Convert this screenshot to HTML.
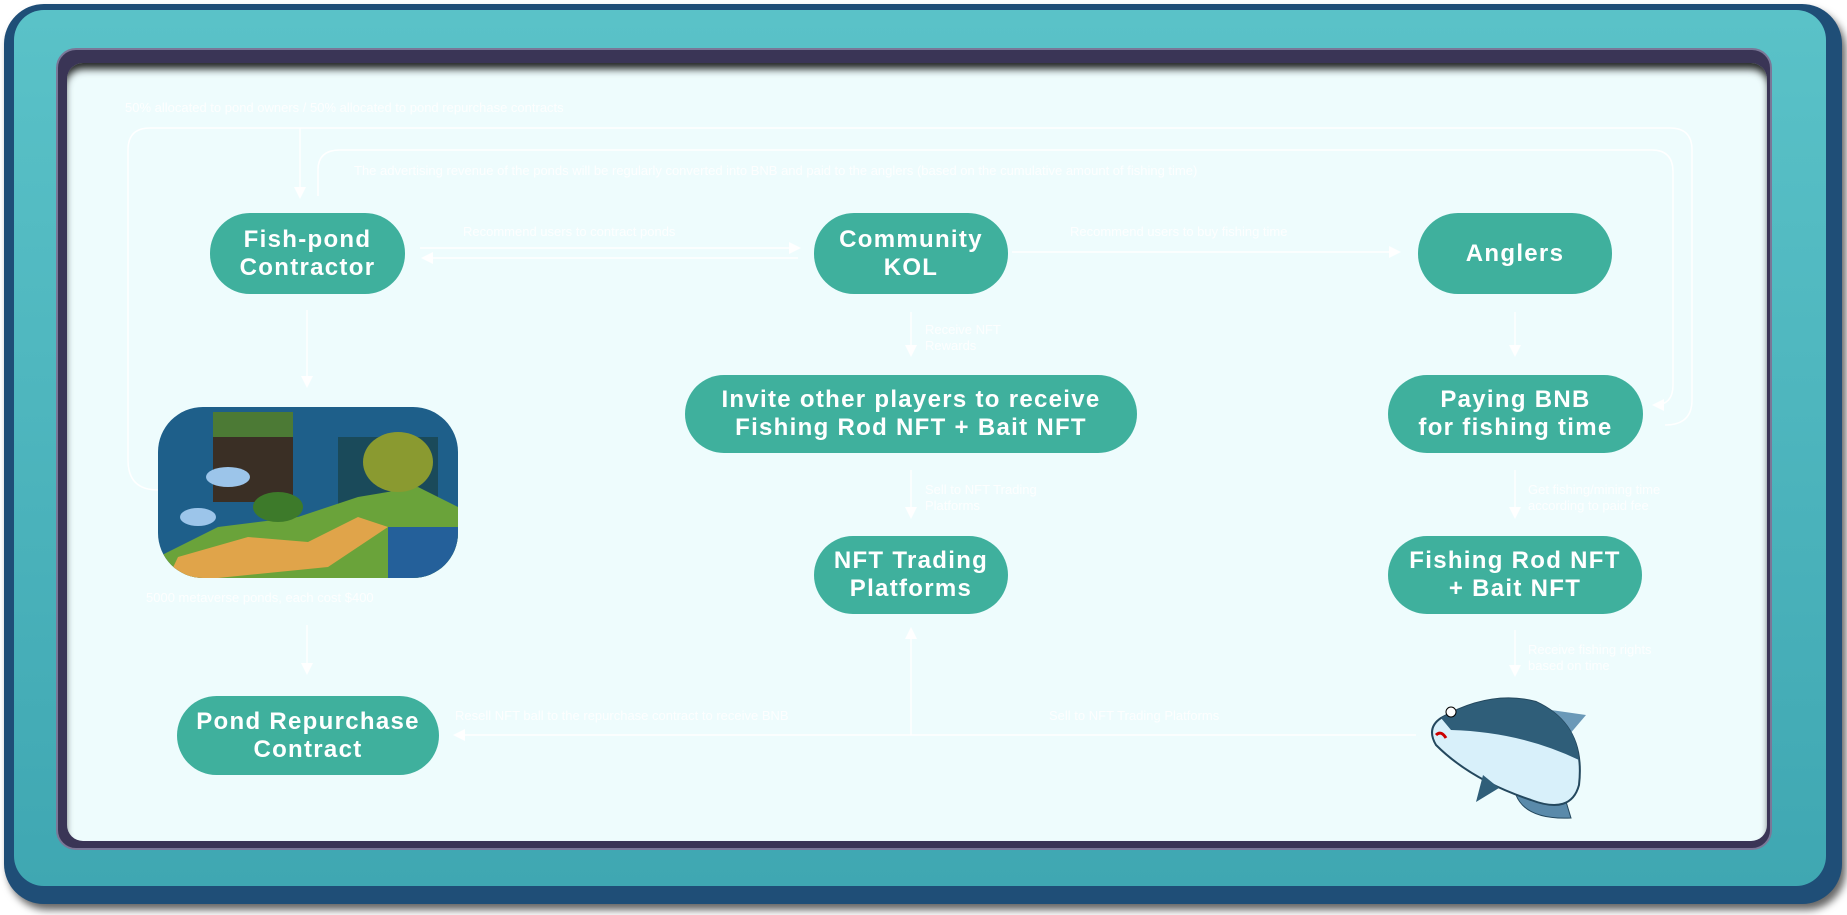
<!DOCTYPE html>
<html><head><meta charset="utf-8"><style>
*{margin:0;padding:0;box-sizing:border-box}
body{width:1847px;height:915px;background:#fff;position:relative;overflow:hidden;font-family:"Liberation Sans",Arial,sans-serif}
.outer{position:absolute;left:4px;top:4px;width:1838px;height:900px;border-radius:40px;background:#1f4e77;box-shadow:4px 6px 8px rgba(0,0,0,.6)}
.teal{position:absolute;left:14px;top:10px;width:1812px;height:876px;border-radius:30px;background:linear-gradient(#5ac2c8,#3fa7b2);}
.band{position:absolute;left:56px;top:48px;width:1716px;height:802px;border-radius:20px;background:#3a3556;border:2px solid #7a7898}
.panel{position:absolute;left:67px;top:63px;width:1700px;height:778px;border-radius:16px;background:#eefcfd;box-shadow:inset 0 8px 8px -2px rgba(0,0,0,.85)}
.node{position:absolute;background:#3fb09d;color:#fff;font-weight:bold;font-size:24px;letter-spacing:1.3px;line-height:28px;display:flex;align-items:center;justify-content:center;text-align:center;border-radius:40px}
.lbl{position:absolute;color:#fff;font-size:13px;line-height:16px;white-space:nowrap;opacity:.9}
svg{position:absolute;left:0;top:0}
</style></head><body>
<div class="outer"></div><div class="teal"></div><div class="band"></div><div class="panel"></div>
<svg width="1847" height="915">
<defs><marker id="a" markerWidth="8" markerHeight="8" refX="6" refY="4" orient="auto"><path d="M0,0 L8,4 L0,8z" fill="#fff"/></marker></defs>
<g stroke="#fff" stroke-width="1.5" fill="none">
<path d="M158,490 Q128,490 128,460 L128,150 Q128,128 150,128 L1670,128 Q1692,128 1692,150 L1692,400 Q1692,425 1665,425"/>
<path d="M300,128 L300,196" marker-end="url(#a)"/>
<path d="M318,196 L318,170 Q318,150 340,150 L1652,150 Q1673,150 1673,172 L1673,385 Q1673,405 1655,405" marker-end="url(#a)"/>
<path d="M420,248 L798,248" marker-end="url(#a)"/>
<path d="M798,258 L424,258" marker-end="url(#a)"/>
<path d="M1012,252 L1398,252" marker-end="url(#a)"/>
<path d="M307,310 L307,385" marker-end="url(#a)"/>
<path d="M911,312 L911,354" marker-end="url(#a)"/>
<path d="M1515,312 L1515,354" marker-end="url(#a)"/>
<path d="M911,470 L911,516" marker-end="url(#a)"/>
<path d="M1515,470 L1515,516" marker-end="url(#a)"/>
<path d="M307,625 L307,672" marker-end="url(#a)"/>
<path d="M1515,630 L1515,674" marker-end="url(#a)"/>
<path d="M1416,735 L456,735" marker-end="url(#a)"/>
<path d="M911,735 L911,630" marker-end="url(#a)"/>
</g></svg>
<div class="lbl" style="left:125px;top:100px">50% allocated to pond owners / 50% allocated to pond repurchase contracts</div>
<div class="lbl" style="left:354px;top:163px">The advertising revenue of the ponds will be regularly converted into BNB and paid to the anglers (based on the cumulative amount of fishing time)</div>
<div class="lbl" style="left:463px;top:224px">Recommend users to contract ponds</div>
<div class="lbl" style="left:1070px;top:224px">Recommend users to buy fishing time</div>
<div class="lbl" style="left:925px;top:322px">Receive NFT<br>Rewards</div>
<div class="lbl" style="left:925px;top:482px">Sell to NFT Trading<br>Platforms</div>
<div class="lbl" style="left:1528px;top:482px">Get fishing/mining time<br>according to paid fee</div>
<div class="lbl" style="left:1528px;top:642px">Receive fishing rights<br>based on time</div>
<div class="lbl" style="left:146px;top:590px">5000 metaverse ponds, each cost $400</div>
<div class="lbl" style="left:455px;top:708px">Resell NFT ball to the repurchase contract to receive BNB</div>
<div class="lbl" style="left:1049px;top:708px">Sell to NFT Trading Platforms</div>
<div class="node" style="left:210px;top:213px;width:195px;height:81px">Fish-pond<br>Contractor</div>
<div class="node" style="left:814px;top:213px;width:194px;height:81px">Community<br>KOL</div>
<div class="node" style="left:1418px;top:213px;width:194px;height:81px">Anglers</div>
<div class="node" style="left:685px;top:375px;width:452px;height:78px">Invite other players to receive<br>Fishing Rod NFT + Bait NFT</div>
<div class="node" style="left:1388px;top:375px;width:255px;height:78px">Paying BNB<br>for fishing time</div>
<div class="node" style="left:814px;top:536px;width:194px;height:78px">NFT Trading<br>Platforms</div>
<div class="node" style="left:1388px;top:536px;width:254px;height:78px">Fishing Rod NFT<br>+ Bait NFT</div>
<div class="node" style="left:177px;top:696px;width:262px;height:79px">Pond Repurchase<br>Contract</div>
<svg style="left:158px;top:407px" width="300" height="171">
<defs><clipPath id="c"><rect width="300" height="171" rx="45"/></clipPath></defs>
<g clip-path="url(#c)">
<rect width="300" height="171" fill="#1e5f8a"/>
<rect x="55" y="5" width="80" height="90" fill="#3a2f25"/>
<rect x="55" y="5" width="80" height="25" fill="#4c7a35"/>
<rect x="180" y="30" width="100" height="90" fill="#1a4a5a"/>
<path d="M0,150 L60,120 L140,110 L200,90 L260,80 L300,100 L300,171 L0,171z" fill="#6aa33a"/>
<path d="M20,150 L90,130 L150,135 L200,110 L230,120 L170,160 L60,171 L10,171z" fill="#e0a44a"/>
<ellipse cx="240" cy="55" rx="35" ry="30" fill="#8a9a30"/>
<ellipse cx="70" cy="70" rx="22" ry="10" fill="#9cc5ea"/>
<ellipse cx="40" cy="110" rx="18" ry="9" fill="#9cc5ea"/>
<ellipse cx="120" cy="100" rx="25" ry="15" fill="#3d7a2a"/>
<rect x="230" y="120" width="70" height="51" fill="#24609a"/>
</g></svg>
<svg style="left:1421px;top:690px" width="185" height="132">
<path d="M130,20 L165,25 L148,45z" fill="#6a99b8"/>
<path d="M95,105 Q105,130 150,128 L140,95z" fill="#5a8aaa" stroke="#24485e"/>
<path d="M20,28 Q70,0 115,12 Q165,35 158,95 Q150,125 110,110 Q50,90 15,55 Q5,38 20,28z" fill="#d8f0fa" stroke="#24485e" stroke-width="2"/>
<path d="M20,28 Q70,0 115,12 Q155,30 158,70 Q100,42 30,40z" fill="#2f5e79"/>
<path d="M15,45 Q20,40 25,48" stroke="#c00" stroke-width="3" fill="none"/>
<circle cx="30" cy="22" r="5" fill="#fff" stroke="#000"/>
<path d="M62,85 L55,112 L78,98z" fill="#2f5e79"/>
</svg>
</body></html>
